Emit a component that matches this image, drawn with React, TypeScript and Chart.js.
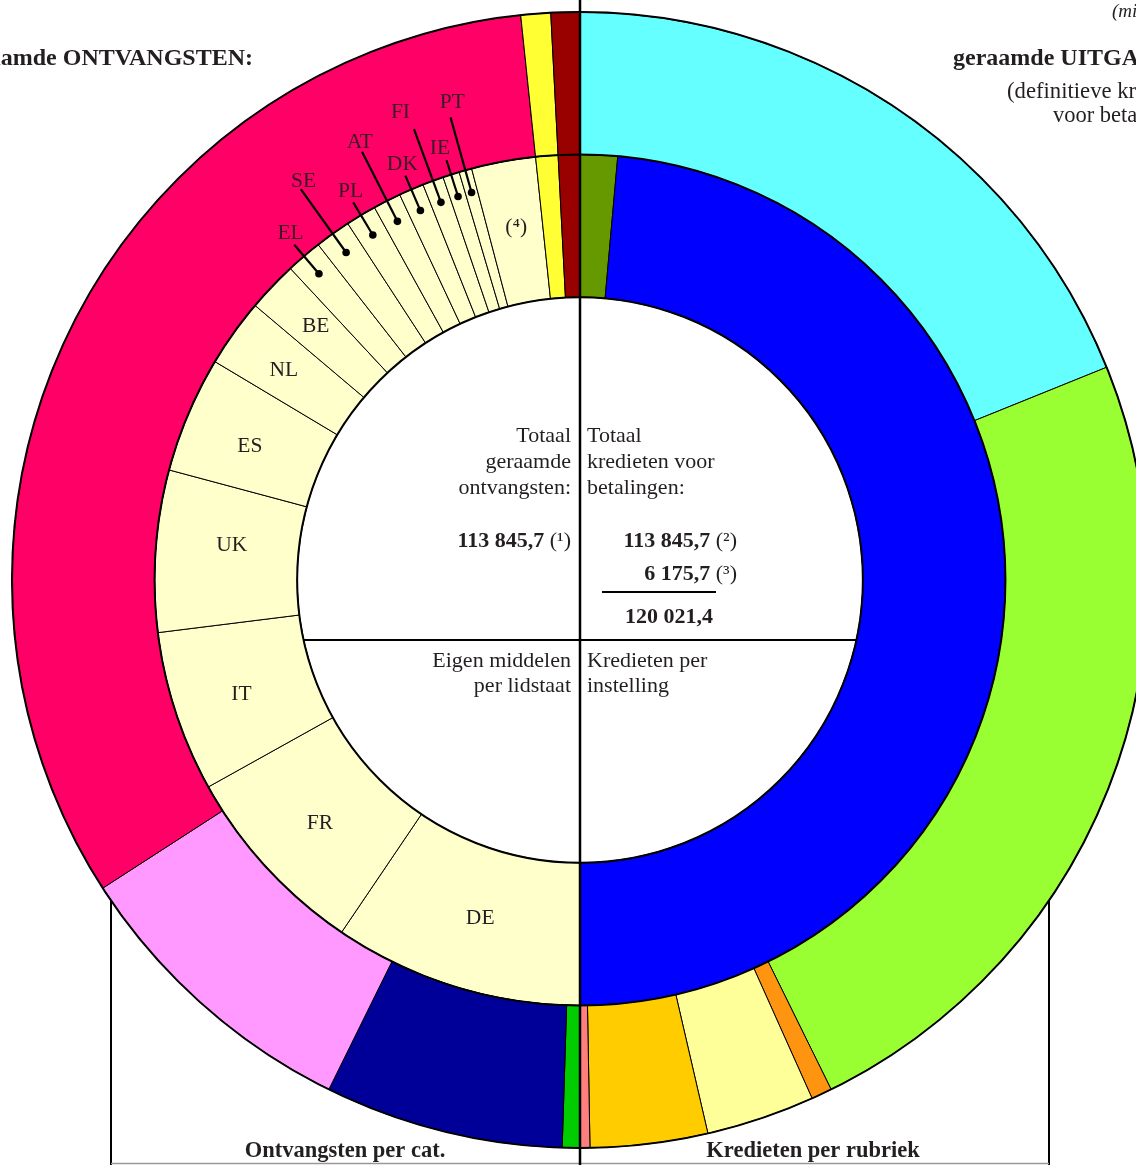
import React, { useEffect, useRef } from "react";
import { Chart, registerables } from "chart.js";

Chart.register(...registerables);

// ---------- DATA (shares of each half of the circle, in %) ----------
// Right half, outer ring: Kredieten per rubriek (clockwise from top)
const rubriekLabels = ["Rubriek 1", "Rubriek 2", "Rubriek 3", "Rubriek 4", "Rubriek 5", "Rubriek 6"];
const rubriekShares = [37.78, 47.64, 1.18, 6.17, 6.67, 0.56];
const rubriekColors = ["#66FFFF", "#99FF33", "#FF9411", "#FFFF99", "#FFCC00", "#FF7F7F"];

// Right half, inner ring: Kredieten per instelling (clockwise from top)
const instellingLabels = ["Overige instellingen", "Commissie"];
const instellingShares = [2.83, 97.17];
const instellingColors = ["#669900", "#0000FF"];

// Left half, shared by both rings (counter-clockwise from top)
const gedeeldLabels = ["Ontvangsten a", "Ontvangsten b"];
const gedeeldShares = [1.64, 1.69];
const gedeeldColors = ["#990000", "#FFFF33"];

// Left half, outer ring: Ontvangsten per categorie (counter-clockwise, after shared)
const categorieLabels = ["BNI-middelen", "BTW-middelen", "Traditionele eigen middelen", "Overige"];
const categorieShares = [64.92, 17.17, 13.58, 1.0];
const categorieColors = ["#FF0066", "#FF99FF", "#000099", "#00CC00"];

// Left half, inner ring: Eigen middelen per lidstaat (counter-clockwise, after shared)
const lidstaatLabels = ["(⁴)", "PT", "IE", "FI", "DK", "AT", "PL", "SE", "EL", "BE", "NL", "ES", "UK", "IT", "FR", "DE"];
const lidstaatShares = [4.87, 0.97, 1.26, 1.6, 1.9, 2.12, 2.33, 2.72, 2.74, 3.83, 5.17, 8.83, 12.28, 12.22, 14.89, 18.94];
const lidstaatColor = "#FFFFCC";

// Totals shown in the centre
const totaalOntvangsten = "113 845,7";
const totaalKredieten = "113 845,7";
const extraKredieten = "6 175,7";
const totaalAlles = "120 021,4";

// ---------- styling ----------
const leaderStyle: Record<string, "short" | "long"> = {
  EL: "short", SE: "long", PL: "short", AT: "long", DK: "short", FI: "long", IE: "short", PT: "long",
};
// small hand nudges of label text (pixels)
const labelNudge: Record<string, [number, number]> = {
  BE: [-8, -9], NL: [-8, -4], UK: [5, -10], ES: [-4, 4], IT: [-2, 4], FR: [1, 4], DE: [4, 0], "(⁴)": [0, -4],
  EL: [6, 0], SE: [12, 5], PL: [5, 2], AT: [5, 5], DK: [3, 2], FI: [-8, -2], IE: [-2, 2], PT: [6, 0],
};
const SERIF = "'Liberation Serif', 'Times New Roman', serif";
const TXT = "#231f20";

// chart order: clockwise from top
const outerLabels = [...rubriekLabels, ...[...gedeeldLabels, ...categorieLabels].reverse()];
const outerData = [...rubriekShares, ...[...gedeeldShares, ...categorieShares].reverse()];
const outerColors = [...rubriekColors, ...[...gedeeldColors, ...categorieColors].reverse()];

const innerLabels = [...instellingLabels, ...[...gedeeldLabels, ...lidstaatLabels].reverse()];
const innerData = [...instellingShares, ...[...gedeeldShares, ...lidstaatShares].reverse()];
const innerColors = [
  ...instellingColors,
  ...[...gedeeldColors, ...lidstaatLabels.map(() => lidstaatColor)].reverse(),
];

function drawParts(
  ctx: CanvasRenderingContext2D,
  parts: [string, string][],
  x: number,
  y: number,
  align: "left" | "right" | "center"
) {
  let total = 0;
  for (const [t, f] of parts) {
    ctx.font = f;
    total += ctx.measureText(t).width;
  }
  let start = align === "left" ? x : align === "right" ? x - total : x - total / 2;
  ctx.textAlign = "left";
  for (const [t, f] of parts) {
    ctx.font = f;
    ctx.fillText(t, start, y);
    start += ctx.measureText(t).width;
  }
}

const overlay = {
  id: "overlay",
  afterDatasetsDraw(chart: any) {
    const ctx = chart.ctx as CanvasRenderingContext2D;
    const outerArcs = chart.getDatasetMeta(0).data as any[];
    const innerArcs = chart.getDatasetMeta(1).data as any[];
    const cx = outerArcs[0].x;
    const cy = outerArcs[0].y;
    const R = outerArcs[0].outerRadius;
    const Rm = outerArcs[0].innerRadius;
    const Ri = innerArcs[0].innerRadius;
    const H = chart.height;
    ctx.save();

    const line = (x1: number, y1: number, x2: number, y2: number, w: number, c = "#000") => {
      ctx.strokeStyle = c;
      ctx.lineWidth = w;
      ctx.beginPath();
      ctx.moveTo(x1, y1);
      ctx.lineTo(x2, y2);
      ctx.stroke();
    };

    // ring outlines
    ctx.strokeStyle = "#000";
    ctx.lineWidth = 2;
    for (const r of [R, Rm, Ri]) {
      ctx.beginPath();
      ctx.arc(cx, cy, r, 0, Math.PI * 2);
      ctx.stroke();
    }

    // centre divider
    const dv = 60;
    const half = Math.sqrt(Ri * Ri - dv * dv);
    line(cx - half, cy + dv, cx + half, cy + dv, 2);

    // bottom box
    const bx = 469;
    const by = cy + Math.sqrt(R * R - bx * bx);
    line(cx - bx, by, cx - bx, H, 2);
    line(cx + bx, by, cx + bx, H, 2);
    line(cx - bx, H - 1.5, cx + bx, H - 1.5, 1.5, "#999");

    // vertical axis
    line(cx, 0, cx, H, 2.5);

    // member-state labels
    ctx.fillStyle = TXT;
    ctx.textBaseline = "middle";
    ctx.textAlign = "center";
    innerArcs.forEach((arc: any, i: number) => {
      const lab = innerLabels[i];
      if (!lidstaatLabels.includes(lab)) return;
      const mid = (arc.startAngle + arc.endAngle) / 2;
      const cos = Math.cos(mid);
      const sin = Math.sin(mid);
      const style = leaderStyle[lab];
      const [nx, ny] = labelNudge[lab] || [0, 0];
      ctx.font = `21.5px ${SERIF}`;
      if (!style) {
        const r = (arc.innerRadius + arc.outerRadius) / 2;
        ctx.fillStyle = TXT;
        ctx.fillText(lab, cx + r * cos + nx, cy + r * sin + ny);
      } else {
        const rDot = arc.outerRadius - 23;
        const rEnd = style === "short" ? arc.outerRadius + 15 : arc.outerRadius + 55;
        const rLab = style === "short" ? arc.outerRadius + 30 : arc.outerRadius + 71;
        line(cx + rDot * cos, cy + rDot * sin, cx + rEnd * cos, cy + rEnd * sin, 2.2);
        ctx.fillStyle = "#000";
        ctx.beginPath();
        ctx.arc(cx + rDot * cos, cy + rDot * sin, 3.8, 0, Math.PI * 2);
        ctx.fill();
        ctx.fillStyle = "#3a1a24";
        ctx.fillText(lab, cx + rLab * cos + nx, cy + rLab * sin + ny);
      }
    });

    // centre texts
    ctx.textBaseline = "alphabetic";
    ctx.fillStyle = TXT;
    const reg = `22px ${SERIF}`;
    const bold = `bold 22px ${SERIF}`;
    const lx = cx - 9;
    const rx = cx + 7;
    ctx.font = reg;
    ctx.textAlign = "right";
    ctx.fillText("Totaal", lx, cy - 138);
    ctx.fillText("geraamde", lx, cy - 112);
    ctx.fillText("ontvangsten:", lx, cy - 86);
    ctx.fillText("Eigen middelen", lx, cy + 87);
    ctx.fillText("per lidstaat", lx, cy + 112);
    ctx.textAlign = "left";
    ctx.fillText("Totaal", rx, cy - 138);
    ctx.fillText("kredieten voor", rx, cy - 112);
    ctx.fillText("betalingen:", rx, cy - 86);
    ctx.fillText("Kredieten per", rx, cy + 87);
    ctx.fillText("instelling", rx, cy + 112);

    drawParts(ctx, [[totaalOntvangsten, bold], [" (¹)", reg]], lx, cy - 33, "right");
    drawParts(ctx, [[totaalKredieten, bold], [" (²)", reg]], cx + 157, cy - 33, "right");
    drawParts(ctx, [[extraKredieten, bold], [" (³)", reg]], cx + 157, cy + 0, "right");
    line(cx + 22, cy + 12, cx + 136, cy + 12, 2);
    drawParts(ctx, [[totaalAlles, bold]], cx + 133, cy + 43, "right");

    // headings
    ctx.fillStyle = TXT;
    drawParts(ctx, [["geraamde ONTVANGSTEN:", `bold 24px ${SERIF}`]], 253, 65, "right");
    drawParts(ctx, [["geraamde UITGAVEN:", `bold 24px ${SERIF}`]], 953, 65, "left");
    drawParts(ctx, [["(definitieve kredieten", `22.7px ${SERIF}`]], 1007, 98, "left");
    drawParts(ctx, [["voor betalingen)", `22.5px ${SERIF}`]], 1053, 122, "left");
    drawParts(ctx, [["(mio EUR)", `italic 19px ${SERIF}`]], 1112, 17, "left");

    // bottom captions
    drawParts(ctx, [["Ontvangsten per cat.", `bold 22.5px ${SERIF}`]], cx - 235, 1157, "center");
    drawParts(ctx, [["Kredieten per rubriek", `bold 22.5px ${SERIF}`]], cx + 233, 1157, "center");

    ctx.restore();
  },
};

export default function App() {
  const ref = useRef<HTMLCanvasElement>(null);
  useEffect(() => {
    const canvas = ref.current;
    if (!canvas) return;
    const chart = new Chart(canvas, {
      type: "doughnut",
      data: {
        labels: innerLabels,
        datasets: [
          {
            label: "buiten",
            data: outerData,
            backgroundColor: outerColors,
            borderColor: "#000",
            borderWidth: 1,
            hoverOffset: 0,
          } as any,
          {
            label: "binnen",
            data: innerData,
            backgroundColor: innerColors,
            borderColor: "#000",
            borderWidth: 1,
            hoverOffset: 0,
          } as any,
        ],
      },
      options: {
        responsive: false,
        animation: false,
        devicePixelRatio: 1,
        events: [],
        radius: 568,
        cutout: "49.8%",
        rotation: 0,
        circumference: 360,
        layout: { padding: { left: 0, right: 0, top: 0, bottom: 5 } },
        plugins: { legend: { display: false }, tooltip: { enabled: false } },
      } as any,
      plugins: [overlay],
    });
    return () => chart.destroy();
  }, []);
  return (
    <div
      style={{
        position: "fixed",
        left: 0,
        top: 0,
        width: 1136,
        height: 1165,
        overflow: "hidden",
        background: "#fff",
      }}
    >
      <canvas
        ref={ref}
        width={1160}
        height={1165}
        style={{ position: "absolute", left: 0, top: 0, width: 1160, height: 1165 }}
      />
    </div>
  );
}
